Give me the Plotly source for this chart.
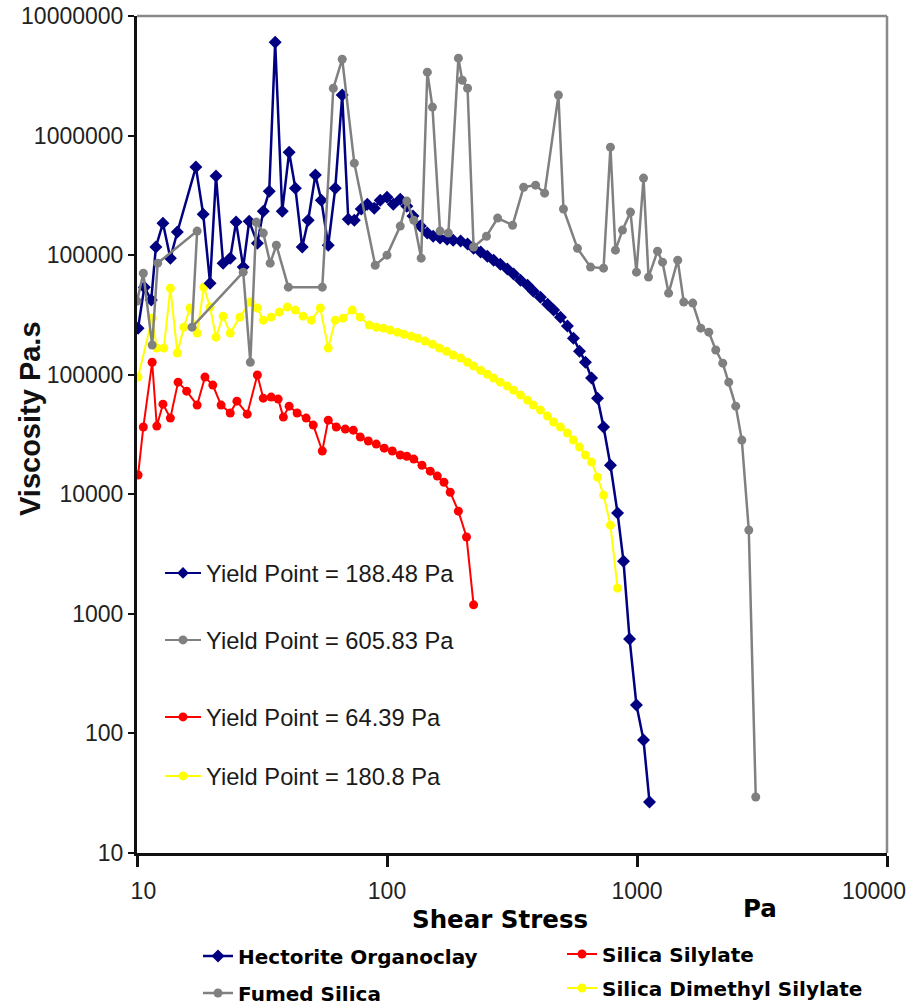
import plotly.graph_objects as go

# ---------------- data (Shear stress in Pa, viscosity in Pa.s, axis units) ----------------
hect_x = [10.1, 10.7, 11.4, 11.9, 12.7, 13.6, 14.5, 17.2, 18.4, 19.6,
          20.7, 22.1, 23.6, 24.9, 26.6, 28.1, 30.3, 32.0, 33.8, 35.7,
          38.1, 40.6, 43.0, 45.8, 48.4, 51.7, 54.6, 58.2, 62.1, 66.2,
          70.0, 74.0, 78.9, 83.4, 88.9, 94.0, 100, 106, 113, 120,
          127, 136, 145, 153, 163, 174, 184, 197, 210, 222,
          237, 252, 267, 284, 303, 321, 342, 365, 385, 411,
          439, 464, 494, 527, 557, 589, 622, 658, 695, 735,
          783, 836, 883, 934, 995, 1062, 1122]
hect_y = [2.45e5, 5.40e5, 4.21e5, 1.17e6, 1.85e6, 9.44e5, 1.56e6, 5.45e6, 2.20e6, 5.83e5,
          4.58e6, 8.57e5, 9.44e5, 1.89e6, 7.94e5, 1.92e6, 1.26e6, 2.33e6, 3.43e6, 6.04e7,
          2.33e6, 7.26e6, 3.63e6, 1.17e6, 1.96e6, 4.67e6, 2.88e6, 1.21e6, 3.63e6, 2.18e7,
          2.00e6, 1.96e6, 2.43e6, 2.67e6, 2.47e6, 2.88e6, 3.05e6, 2.67e6, 2.94e6, 2.57e6,
          2.12e6, 1.75e6, 1.53e6, 1.44e6, 1.39e6, 1.36e6, 1.33e6, 1.31e6, 1.24e6, 1.14e6,
          1.06e6, 9.8e5, 9.08e5, 8.41e5, 7.64e5, 6.94e5, 6.18e5, 5.61e5, 5.00e5, 4.45e5,
          3.89e5, 3.47e5, 3.03e5, 2.55e5, 2.02e5, 1.57e5, 1.27e5, 9.37e4, 6.37e4, 3.65e4,
          1.75e4, 6.97e3, 2.76e3, 615, 173, 88, 26.7]

fumed_x = [10.0, 10.6, 11.5, 12.1, 17.4, 16.6, 26.6, 28.4, 30.0, 32.0,
           34.1, 36.1, 40.3, 55.1, 61.0, 66.2, 74.0, 89.7, 100, 113,
           120, 128, 137, 145, 152, 163, 176, 193, 200, 210,
           222, 250, 277, 318, 352, 393, 427, 485, 508, 578,
           652, 735, 783, 820, 875, 942, 995, 1062, 1112, 1208,
           1265, 1338, 1455, 1538, 1671, 1799, 1937, 2066, 2203, 2328,
           2483, 2626, 2800, 2985]
fumed_y = [4.12e5, 7.06e5, 1.77e5, 8.57e5, 1.59e6, 2.50e5, 7.21e5, 1.27e5, 1.89e6, 1.53e6,
           8.57e5, 1.21e6, 5.40e5, 5.40e5, 2.49e7, 4.35e7, 5.88e6, 8.24e5, 1.00e6, 1.75e6,
           2.83e6, 1.96e6, 9.44e5, 3.39e7, 1.73e7, 1.59e6, 1.53e6, 4.44e7, 2.90e7, 2.49e7,
           1.17e6, 1.44e6, 2.04e6, 1.78e6, 3.70e6, 3.85e6, 3.30e6, 2.18e7, 2.43e6, 1.14e6,
           7.94e5, 7.78e5, 8.0e6, 1.10e6, 1.62e6, 2.29e6, 7.21e5, 4.41e6, 6.55e5, 1.08e6,
           8.74e5, 4.81e5, 9.08e5, 4.05e5, 3.97e5, 2.45e5, 2.27e5, 1.61e5, 1.25e5, 8.67e4,
           5.46e4, 2.84e4, 5.02e3, 29.4]

sily_x = [10.1, 10.6, 11.5, 12.0, 12.7, 13.6, 14.6, 15.8, 17.4, 18.7,
          20.1, 21.7, 23.6, 25.1, 27.6, 30.3, 32.0, 34.4, 36.7, 38.5,
          40.6, 43.7, 47.5, 50.7, 55.1, 58.2, 62.7, 68.1, 73.3, 78.2,
          84.2, 90.6, 97.5, 105, 113, 120, 128, 138, 149, 159,
          169, 179, 193, 208, 222]
sily_y = [1.45e4, 3.65e4, 1.27e5, 3.72e4, 5.67e4, 4.34e4, 8.67e4, 7.29e4, 5.57e4, 9.55e4,
          8.19e4, 5.57e4, 4.78e4, 6.01e4, 4.68e4, 9.94e4, 6.37e4, 6.50e4, 6.25e4, 4.42e4,
          5.46e4, 4.78e4, 4.34e4, 3.79e4, 2.30e4, 4.17e4, 3.65e4, 3.51e4, 3.44e4, 3.01e4,
          2.79e4, 2.63e4, 2.43e4, 2.30e4, 2.13e4, 2.08e4, 1.97e4, 1.75e4, 1.56e4, 1.42e4,
          1.26e4, 1.04e4, 7.23e3, 4.39e3, 1.19e3]

dime_x = [10.1, 11.5, 12.0, 12.8, 13.6, 14.5, 15.4, 16.3, 17.4, 18.5,
          19.6, 20.7, 22.1, 23.6, 25.8, 28.4, 30.3, 32.0, 34.4, 37.1,
          39.9, 43.0, 46.2, 49.8, 54.1, 58.2, 62.1, 66.8, 72.6, 78.2,
          84.9, 90.6, 96.6, 103, 110, 117, 125, 133, 142, 152,
          162, 173, 184, 197, 210, 222, 237, 252, 267, 284,
          303, 321, 342, 365, 385, 411, 439, 464, 494, 527,
          557, 589, 622, 658, 695, 735, 783, 836]
dime_y = [9.55e4, 2.97e5, 1.67e5, 1.67e5, 5.29e5, 1.52e5, 2.50e5, 3.61e5, 2.23e5, 5.40e5,
          3.68e5, 2.06e5, 3.09e5, 2.23e5, 3.03e5, 4.05e5, 3.61e5, 2.86e5, 3.03e5, 3.34e5,
          3.68e5, 3.47e5, 3.09e5, 2.86e5, 3.61e5, 1.67e5, 2.86e5, 2.97e5, 3.47e5, 3.03e5,
          2.60e5, 2.50e5, 2.45e5, 2.36e5, 2.27e5, 2.18e5, 2.10e5, 2.02e5, 1.91e5, 1.80e5,
          1.67e5, 1.57e5, 1.46e5, 1.38e5, 1.27e5, 1.18e5, 1.09e5, 1.01e5, 9.37e4, 8.67e4,
          8.03e4, 7.43e4, 6.75e4, 6.13e4, 5.57e4, 5.06e4, 4.51e4, 4.02e4, 3.65e4, 3.25e4,
          2.84e4, 2.48e4, 2.13e4, 1.86e4, 1.39e4, 9.84e3, 5.52e3, 1.64e3]

series_names = ["Hectorite Organoclay", "Fumed Silica", "Silica Silylate", "Silica Dimethyl Silylate"]
yield_labels = ["Yield Point = 188.48 Pa", "Yield Point = 605.83 Pa",
                "Yield Point = 64.39 Pa", "Yield Point = 180.8 Pa"]

x_tickvals = [10, 100, 1000, 10000]
x_ticktext = ["\u200710", "100", "1000", ""]
x_last_label = "10000"   # drawn inset from the right edge, as in the original
y_tickvals = [1e1, 1e2, 1e3, 1e4, 1e5, 1e6, 1e7, 1e8]
y_ticktext = ["10", "100", "1000", "10000", "100000", "100000", "1000000", "10000000"]

# ---------------- styles ----------------
BLUE = "#000080"
GRAY = "#808080"
RED = "#FF0000"
YELLOW = "#FFFF00"
ARIAL = "Liberation Sans, Arial, sans-serif"
WIDE = "DejaVu Sans, Verdana, sans-serif"

fig = go.Figure()

def add_series(x, y, name, color, symbol, size, lw, legend):
    fig.add_trace(go.Scatter(
        x=x, y=y, name=name, mode="lines+markers",
        line=dict(color=color, width=lw),
        marker=dict(color=color, symbol=symbol, size=size, line=dict(width=0)),
        legend=legend, showlegend=True))

# draw order: red, yellow, blue, gray (gray on top)
add_series(sily_x, sily_y, series_names[2], RED, "circle", 9, 2, "legend3")
add_series(dime_x, dime_y, series_names[3], YELLOW, "circle", 9, 2, "legend4")
add_series(hect_x, hect_y, series_names[0], BLUE, "diamond", 10, 2.5, "legend")
add_series(fumed_x, fumed_y, series_names[1], GRAY, "circle", 9, 2.5, "legend2")

# yield-point key entries (legend items only, no data)
yield_styles = [(BLUE, "diamond"), (GRAY, "circle"), (RED, "circle"), (YELLOW, "circle")]
for i, (lab, (c, s)) in enumerate(zip(yield_labels, yield_styles)):
    fig.add_trace(go.Scatter(
        x=[None], y=[None], name=lab, mode="lines+markers",
        line=dict(color=c, width=2), marker=dict(color=c, symbol=s, size=9),
        legend="legend%d" % (i + 5), showlegend=True, hoverinfo="skip"))

# plot area in pixels: x 137..887, y 16..853
def px_x(px):
    return (px - 137) / 750.0

def px_y(py):
    return (853 - py) / 837.0

def leg(x_px, y_px, font, iw=30):
    return dict(x=px_x(x_px), y=px_y(y_px), xanchor="left", yanchor="middle",
                bgcolor="rgba(0,0,0,0)", borderwidth=0, font=font, itemwidth=iw,
                itemclick=False, itemdoubleclick=False)

yield_font = dict(family=ARIAL, size=23.7, color="#1a1a1a")
name_font = dict(family=WIDE, size=20, color="#000000", weight="bold")
tick_font = dict(family=ARIAL, size=23, color="#222")

fig.update_layout(
    width=912, height=1005,
    margin=dict(l=137, r=25, t=16, b=152, autoexpand=False),
    paper_bgcolor="white", plot_bgcolor="white",
    showlegend=True,
    legend=leg(198, 956, name_font),
    legend2=leg(198, 993, name_font),
    legend3=leg(562, 954, name_font),
    legend4=leg(562, 988, name_font),
    legend5=leg(160, 573, yield_font, 36),
    legend6=leg(160, 640, yield_font, 36),
    legend7=leg(160, 717, yield_font, 36),
    legend8=leg(160, 776, yield_font, 36),
    xaxis=dict(type="log", range=[1, 4], tickvals=x_tickvals, ticktext=x_ticktext,
               ticks="outside", ticklen=11, tickwidth=2.5, tickcolor="#111",
               showline=True, linecolor="#111", linewidth=3,
               showgrid=False, zeroline=False, ticklabelstandoff=4,
               tickfont=tick_font),
    yaxis=dict(type="log", range=[1, 8], tickvals=y_tickvals, ticktext=y_ticktext,
               ticks="outside", ticklen=6, tickwidth=2, tickcolor="#111",
               showline=True, linecolor="#111", linewidth=3,
               showgrid=False, zeroline=False,
               tickfont=tick_font),
    shapes=[
        dict(type="line", xref="paper", yref="paper", x0=0, x1=1, y0=1, y1=1,
             line=dict(color="#8a8a8a", width=2.5)),
        dict(type="line", xref="paper", yref="paper", x0=1, x1=1, y0=0, y1=1,
             line=dict(color="#8a8a8a", width=2.5)),
    ],
    annotations=[
        dict(text=x_last_label, xref="paper", yref="paper",
             x=px_x(874), y=px_y(891), showarrow=False,
             xanchor="center", yanchor="middle", font=tick_font),
        dict(text="<b>Viscosity Pa.s</b>", xref="paper", yref="paper",
             x=px_x(30), y=px_y(419), textangle=-90, showarrow=False,
             xanchor="center", yanchor="middle",
             font=dict(family=ARIAL, size=29, color="#111")),
        dict(text="Shear Stress", xref="paper", yref="paper",
             x=px_x(500), y=px_y(919), showarrow=False,
             xanchor="center", yanchor="middle",
             font=dict(family=WIDE, size=24.5, color="#000", weight="bold")),
        dict(text="Pa", xref="paper", yref="paper",
             x=px_x(760), y=px_y(908), showarrow=False,
             xanchor="center", yanchor="middle",
             font=dict(family=WIDE, size=24.5, color="#000", weight="bold")),
    ],
)

fig.write_html("out.html")
